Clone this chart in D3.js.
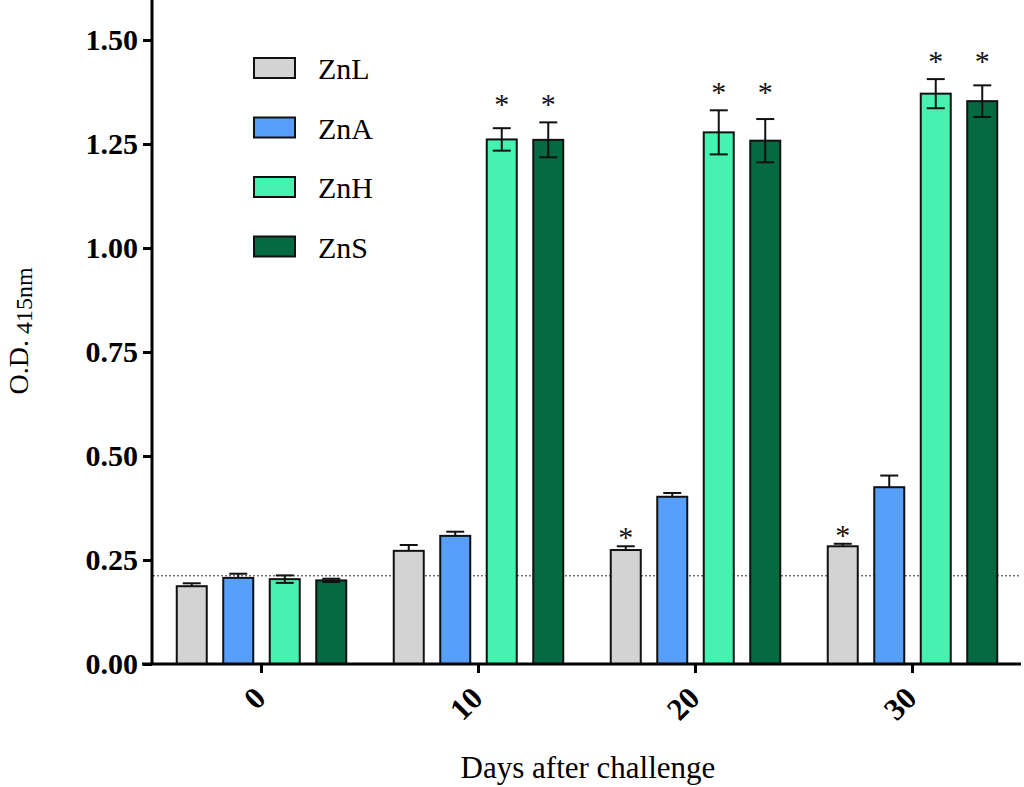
<!DOCTYPE html>
<html>
<head>
<meta charset="utf-8">
<script src="https://cdn.jsdelivr.net/npm/d3@7"></script>
<style>
  body { margin: 0; background: #fff; }
  svg { display: block; font-family: "Liberation Serif", "Times New Roman", serif; }
</style>
</head>
<body>
<div id="chart"></div>
<script>
// Data
const days = ["0", "10", "20", "30"];
const groups = ["ZnL", "ZnA", "ZnH", "ZnS"];
const colors = ["#d3d3d3", "#579ffb", "#45f2b0", "#056a42"];

// mean O.D. per group, one value per day
const meanZnL = [0.187, 0.272, 0.274, 0.283];
const meanZnA = [0.207, 0.308, 0.402, 0.425];
const meanZnH = [0.204, 1.261, 1.278, 1.371];
const meanZnS = [0.201, 1.260, 1.258, 1.353];

// error bar half-heights
const errZnL = [0.007, 0.014, 0.009, 0.006];
const errZnA = [0.010, 0.010, 0.009, 0.028];
const errZnH = [0.009, 0.027, 0.053, 0.035];
const errZnS = [0.004, 0.042, 0.052, 0.038];

// significance marks: [day, group]
const stars = [["10", "ZnH"], ["10", "ZnS"], ["20", "ZnL"], ["20", "ZnH"], ["20", "ZnS"],
               ["30", "ZnL"], ["30", "ZnH"], ["30", "ZnS"]];

const yTicks = [0, 0.25, 0.5, 0.75, 1.0, 1.25, 1.5];
const cutoff = 0.212;   // dotted reference line

const WIDTH = 1024, HEIGHT = 787;

const means = [meanZnL, meanZnA, meanZnH, meanZnS];
const errs = [errZnL, errZnA, errZnH, errZnS];

// flatten into one record per bar
const data = [];
days.forEach((day, i) => {
  groups.forEach((g, j) => {
    data.push({ day: day, group: g, value: means[j][i], err: errs[j][i], color: colors[j] });
  });
});

const svg = d3.select("#chart").append("svg")
  .attr("width", WIDTH)
  .attr("height", HEIGHT);

// Scales
const x0 = d3.scaleBand().domain(days).range([153, 1021]).padding(0);
const x1 = d3.scaleBand().domain(groups)
  .range([x0.bandwidth() / 2 - 93, x0.bandwidth() / 2 + 93])
  .paddingInner(0.355).paddingOuter(0.1775);
const y = d3.scaleLinear().domain([0, 1.6]).range([664, 664 - 1.6 * 416]);

// Dotted reference line (drawn behind bars)
svg.append("line")
  .attr("x1", x0.range()[0]).attr("x2", x0.range()[1])
  .attr("y1", y(cutoff)).attr("y2", y(cutoff))
  .attr("stroke", "#333")
  .attr("stroke-width", 1)
  .attr("stroke-dasharray", "2,2");

// Bars
const bar = svg.selectAll("g.bar")
  .data(data)
  .enter()
  .append("g")
  .attr("class", "bar")
  .attr("transform", (d) => "translate(" + (x0(d.day) + x1(d.group)) + ",0)");

// ZnH / ZnS show the lower whisker, ZnL / ZnA only the upper one
const bothWhiskers = (d) => d.group === "ZnH" || d.group === "ZnS";
const bw = x1.bandwidth();
const cap = 9;

bar.append("rect")
  .attr("x", 0)
  .attr("y", (d) => y(d.value))
  .attr("width", bw)
  .attr("height", (d) => y(0) - y(d.value))
  .attr("fill", (d) => d.color)
  .attr("stroke", "#111")
  .attr("stroke-width", 2);

bar.append("line")  // vertical whisker
  .attr("x1", bw / 2).attr("x2", bw / 2)
  .attr("y1", (d) => bothWhiskers(d) ? y(d.value - d.err) : y(d.value))
  .attr("y2", (d) => y(d.value + d.err))
  .attr("stroke", "#111").attr("stroke-width", 2);

bar.append("line")  // top cap
  .attr("x1", bw / 2 - cap).attr("x2", bw / 2 + cap)
  .attr("y1", (d) => y(d.value + d.err))
  .attr("y2", (d) => y(d.value + d.err))
  .attr("stroke", "#111").attr("stroke-width", 2);

bar.filter(bothWhiskers).append("line")  // bottom cap
  .attr("x1", bw / 2 - cap).attr("x2", bw / 2 + cap)
  .attr("y1", (d) => y(d.value - d.err))
  .attr("y2", (d) => y(d.value - d.err))
  .attr("stroke", "#111").attr("stroke-width", 2);

// Asterisks: neighbouring starred bars of similar height share one level
const findBar = (day, g) => data.find((d) => d.day === day && d.group === g);
const starData = stars.map(([day, g]) => {
  const d = findBar(day, g);
  const peers = stars.filter((s) => s[0] === day)
    .map((s) => findBar(s[0], s[1]))
    .filter((p) => Math.abs(p.value - d.value) < 0.1);
  const top = d3.max(peers, (p) => p.value + p.err);
  return { x: x0(day) + x1(g) + bw / 2, yTop: y(top), n: peers.length };
});

svg.selectAll("text.star")
  .data(starData)
  .enter()
  .append("text")
  .attr("class", "star")
  .attr("x", (d) => d.x)
  .attr("y", (d) => d.yTop - (d.n > 1 ? 21 : 12) + 13)
  .attr("text-anchor", "middle")
  .attr("font-size", 30)
  .attr("fill", "#111")
  .text("*");

// Y axis
const yAxis = svg.append("g")
  .attr("transform", "translate(152,0)")
  .call(d3.axisLeft(y).tickValues(yTicks).tickFormat(d3.format(".2f")).tickSize(9).tickPadding(5));
yAxis.select(".domain")
  .attr("d", "M0," + y(0) + "V0")
  .attr("stroke", "#000").attr("stroke-width", 3);
yAxis.selectAll(".tick line").attr("stroke", "#000").attr("stroke-width", 3);
yAxis.selectAll(".tick text")
  .attr("font-size", 30)
  .attr("font-weight", "bold")
  .attr("font-family", "Liberation Serif, serif")
  .attr("fill", "#000");

// X axis
const xAxis = svg.append("g")
  .attr("transform", "translate(0," + y(0) + ")")
  .call(d3.axisBottom(x0).tickSize(9).tickSizeOuter(0));
xAxis.select(".domain")
  .attr("d", "M" + (152 - 10) + ",0H" + x0.range()[1])
  .attr("stroke", "#000").attr("stroke-width", 3);
xAxis.selectAll(".tick line").attr("stroke", "#000").attr("stroke-width", 3);
xAxis.selectAll(".tick text")
  .attr("font-size", 31)
  .attr("font-weight", "bold")
  .attr("font-family", "Liberation Serif, serif")
  .attr("fill", "#000")
  .attr("text-anchor", "end")
  .attr("dy", null)
  .attr("transform", "translate(6,36) rotate(-45)")
  .attr("x", 0).attr("y", 0);

// Axis titles
svg.append("text")
  .attr("x", 588)
  .attr("y", 778)
  .attr("text-anchor", "middle")
  .attr("font-size", 31)
  .text("Days after challenge");

const yTitle = svg.append("text")
  .attr("transform", "translate(28,331) rotate(-90)")
  .attr("text-anchor", "middle");
yTitle.append("tspan").attr("font-size", 28).text("O.D.");
yTitle.append("tspan").attr("font-size", 24).attr("dx", 6).attr("dy", 4).text("415nm");

// Legend
const legend = svg.selectAll("g.legend")
  .data(groups)
  .enter()
  .append("g")
  .attr("class", "legend")
  .attr("transform", (d, i) => "translate(254," + (58 + i * 59.5) + ")");

legend.append("rect")
  .attr("width", 41)
  .attr("height", 20)
  .attr("fill", (d, i) => colors[i])
  .attr("stroke", "#111")
  .attr("stroke-width", 2);

legend.append("text")
  .attr("x", 64)
  .attr("y", 21)
  .attr("font-size", 30)
  .text((d) => d);
</script>
</body>
</html>
